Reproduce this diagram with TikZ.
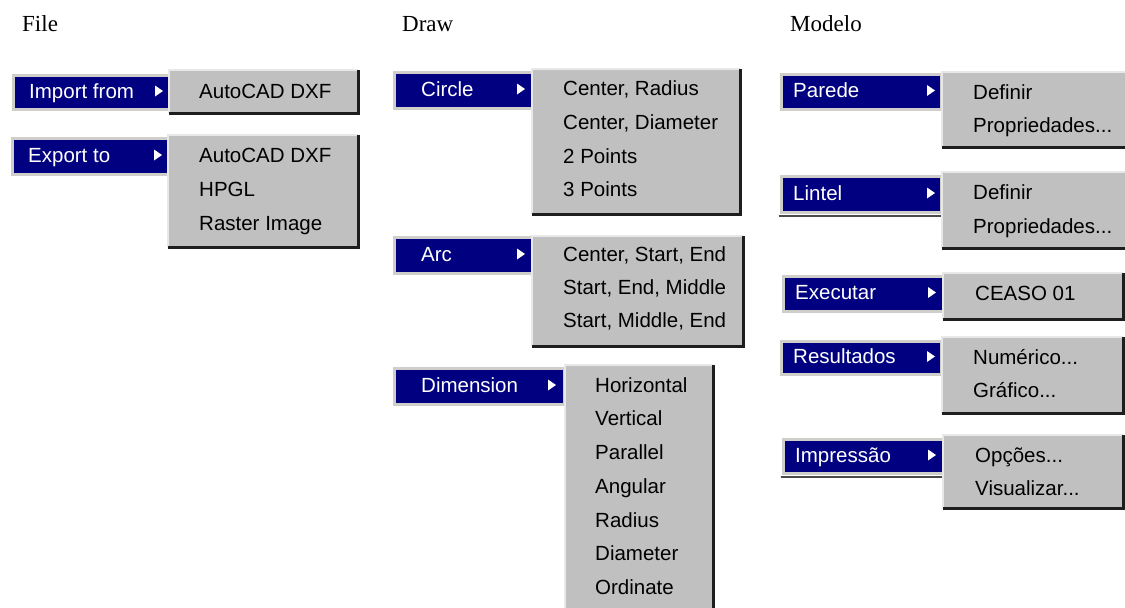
\documentclass[tikz,border=0pt]{standalone}
\usepackage{fontspec}
\setmainfont{Liberation Serif}
\newfontfamily\menufont{Liberation Sans}
\definecolor{menublue}{RGB}{0,0,128}
\definecolor{barframe}{RGB}{208,206,202}
\definecolor{panelgrey}{RGB}{192,192,192}
\definecolor{edgelight}{RGB}{232,232,232}
\definecolor{edgedark}{RGB}{30,30,30}
\tikzset{
  x=1pt, y=-1pt,
  heading/.style={anchor=base west, inner sep=0pt, font=\fontsize{23}{26}\selectfont},
  menubtn/.style={anchor=north west, fill=menublue, draw=barframe, line width=3pt, inner sep=0pt},
  btntext/.style={anchor=base west, inner sep=0pt, text=white, font=\menufont\fontsize{20.5}{24}\selectfont},
  subbox/.style={anchor=north west, fill=panelgrey, inner sep=0pt},
  itemtext/.style={anchor=base west, inner sep=0pt, text=black, font=\menufont\fontsize{20.5}{24}\selectfont},
  lightedge/.style={draw=edgelight, line width=1.5pt},
  darkedge/.style={draw=edgedark, line width=2.5pt},
  barshadow/.style={draw=edgedark!80, line width=1.5pt},
  arrowtri/.style={fill=white},
}
% a highlighted menu entry: name, x1, y1, x2, y2, label, text x, arrow x
\newcommand{\menubutton}[8]{%
  \node[menubtn, minimum width=#4-#2, minimum height=#5-#3] (#1) at (#2,#3) {};
  \node[btntext] (#1-t) at (#7,{(#3+#5)/2+7.3}) {#6};
  \fill[arrowtri] (#8,{(#3+#5)/2-5.5}) -- (#8+8,{(#3+#5)/2}) -- (#8,{(#3+#5)/2+5.5}) -- cycle;
}
% a pop-up panel with 3D edges: name, x1, y1, x2, y2
\newcommand{\popup}[5]{%
  \node[subbox, minimum width=#4-#2, minimum height=#5-#3] (#1) at (#2,#3) {};
  \draw[lightedge] (#1.south west) |- (#1.north east);
  \draw[darkedge] (#1.north east) |- (#1.south west);
}
\begin{document}
\begin{tikzpicture}
\useasboundingbox (0,0) rectangle (1125,608);
\clip (0,0) rectangle (1125,608);

% column headings
\node[heading] (hfile) at (22,31) {File};
\node[heading] (hdraw) at (402,31) {Draw};
\node[heading] (hmodelo) at (790,31) {Modelo};

% ---------- File ----------
\menubutton{imp}{12}{74}{168}{108}{Import from}{29}{155}
\popup{impsub}{169}{70}{358}{113}
\node[itemtext] (imp1) at (199,{91.5+7.3}) {AutoCAD DXF};

\menubutton{exp}{11}{137}{167}{173}{Export to}{28}{154}
\popup{expsub}{168}{135}{358}{247}
\node[itemtext] (exp1) at (199,{155+7.3}) {AutoCAD DXF};
\node[itemtext] (exp2) at (199,{189+7.3}) {HPGL};
\node[itemtext] (exp3) at (199,{223+7.3}) {Raster Image};

% ---------- Draw ----------
\menubutton{cir}{393}{71}{531}{107}{Circle}{421}{517}
\popup{cirsub}{532}{69}{740}{214}
\node[itemtext] (cir1) at (563,{88+7.3}) {Center, Radius};
\node[itemtext] (cir2) at (563,{122+7.3}) {Center, Diameter};
\node[itemtext] (cir3) at (563,{156+7.3}) {2 Points};
\node[itemtext] (cir4) at (563,{189+7.3}) {3 Points};

\menubutton{arc}{393}{236}{531}{272}{Arc}{421}{517}
\popup{arcsub}{532}{236}{743}{346}
\node[itemtext] (arc1) at (563,{254+7.3}) {Center, Start, End};
\node[itemtext] (arc2) at (563,{287+7.3}) {Start, End, Middle};
\node[itemtext] (arc3) at (563,{320+7.3}) {Start, Middle, End};

\menubutton{dim}{393}{367}{563}{403}{Dimension}{421}{548}
\popup{dimsub}{565}{365}{713}{640}
\node[itemtext] (dim1) at (595,{385+7.3}) {Horizontal};
\node[itemtext] (dim2) at (595,{418+7.3}) {Vertical};
\node[itemtext] (dim3) at (595,{452+7.3}) {Parallel};
\node[itemtext] (dim4) at (595,{486+7.3}) {Angular};
\node[itemtext] (dim5) at (595,{520+7.3}) {Radius};
\node[itemtext] (dim6) at (595,{553+7.3}) {Diameter};
\node[itemtext] (dim7) at (595,{587+7.3}) {Ordinate};

% ---------- Modelo ----------
\menubutton{par}{780}{73}{940}{108}{Parede}{793}{927}
\popup{parsub}{942}{72}{1135}{147}
\node[itemtext] (par1) at (973,{92+7.3}) {Definir};
\node[itemtext] (par2) at (973,{125+7.3}) {Propriedades...};

\menubutton{lin}{780}{175}{940}{211}{Lintel}{793}{927}
\draw[barshadow] ([shift={(-1.5,2.2)}]lin.south west) -- ([shift={(1.5,2.2)}]lin.south east);
\popup{linsub}{942}{172}{1135}{248}
\node[itemtext] (lin1) at (973,{192+7.3}) {Definir};
\node[itemtext] (lin2) at (973,{226+7.3}) {Propriedades...};

\menubutton{exe}{782}{275}{942}{310}{Executar}{795}{928}
\popup{exesub}{943}{273}{1123}{319}
\node[itemtext] (exe1) at (975,{293+7.3}) {CEASO 01};

\menubutton{res}{780}{340}{940}{373}{Resultados}{793}{927}
\popup{ressub}{942}{337}{1123}{413}
\node[itemtext] (res1) at (973,{357+7.3}) {Numérico...};
\node[itemtext] (res2) at (973,{390+7.3}) {Gráfico...};

\menubutton{imr}{782}{438}{942}{472}{Impressão}{795}{928}
\draw[barshadow] ([shift={(-1.5,2.2)}]imr.south west) -- ([shift={(1.5,2.2)}]imr.south east);
\popup{imrsub}{943}{435}{1123}{508}
\node[itemtext] (imr1) at (975,{455+7.3}) {Opções...};
\node[itemtext] (imr2) at (975,{488+7.3}) {Visualizar...};
\end{tikzpicture}
\end{document}
